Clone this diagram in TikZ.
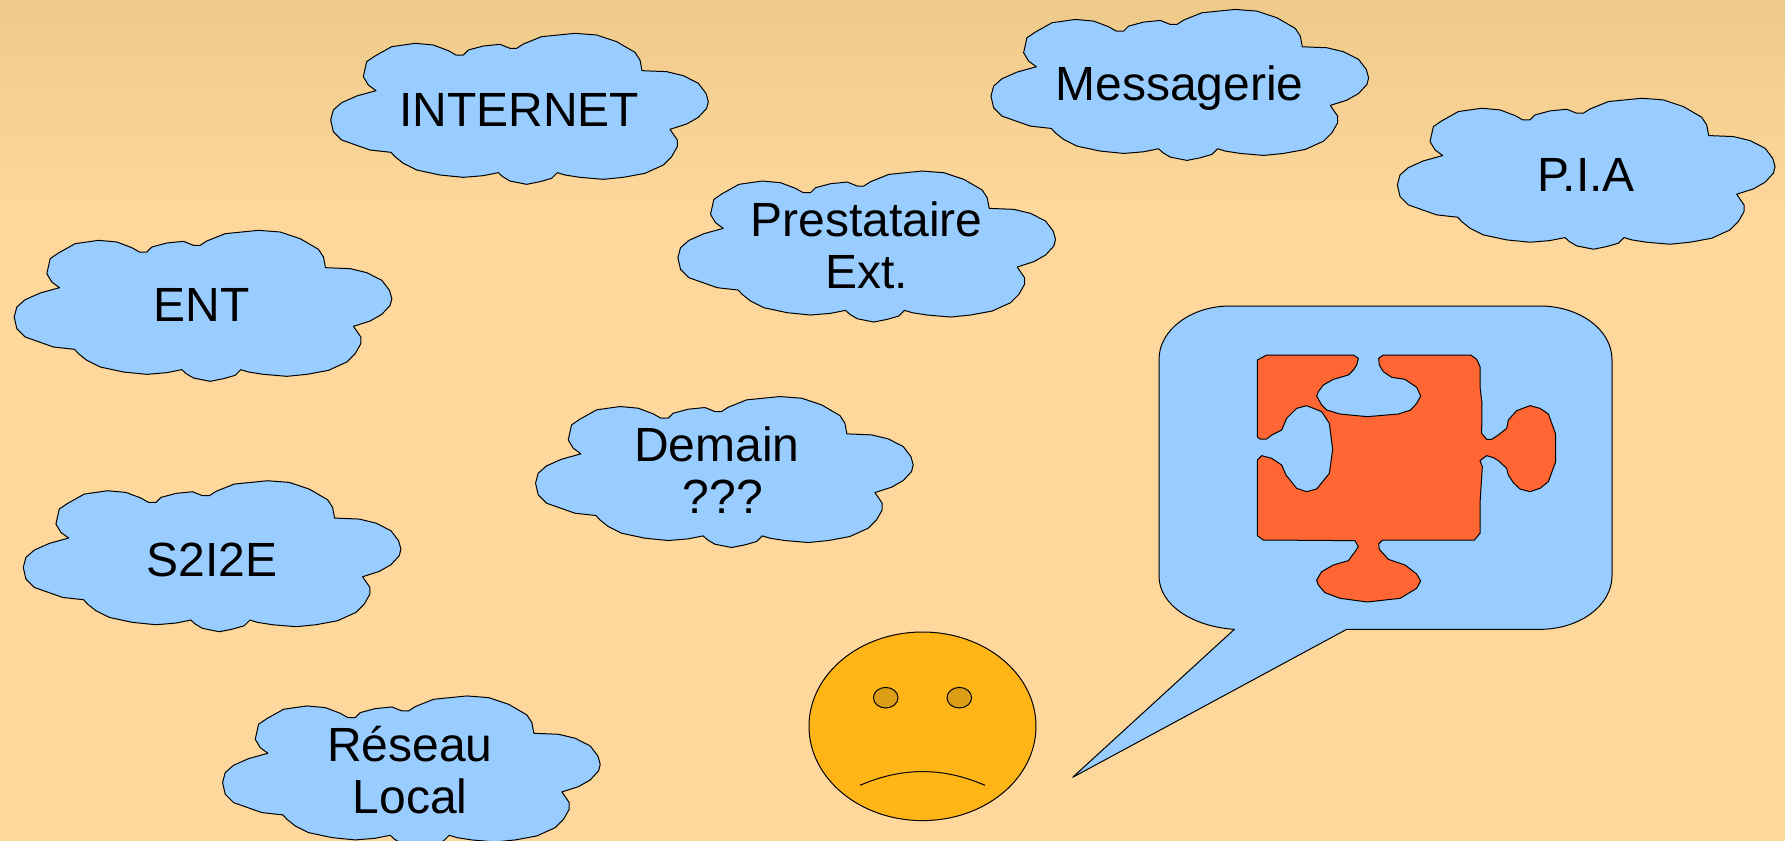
\documentclass[tikz,border=0pt]{standalone}
\usepackage{fontspec}
\setmainfont{Liberation Sans}
\usetikzlibrary{shapes.geometric}
\definecolor{bgtop}{RGB}{238,202,138}
\definecolor{bgmain}{RGB}{253,215,155}
\definecolor{cloudblue}{RGB}{153,204,255}
\definecolor{puzzleorange}{RGB}{255,102,51}
\definecolor{faceyellow}{RGB}{255,181,21}
\definecolor{eyebrown}{RGB}{220,158,20}
\tikzset{
    outline/.style={draw=black, line width=0.5pt, line join=round},
    label/.style={font=\fontsize{24}{26}\selectfont, align=center, inner sep=0},
    oval/.style={ellipse, outline, inner sep=0, outer sep=0},
    cloudpic/.pic={
        \draw[outline, fill=cloudblue] (140,125) -- (165,108) -- (215,80) -- (285,70) -- (340,75) -- (385,92) -- (408,105) -- (430,105) -- (445,90) -- (490,78) -- (540,73) -- (570,85) -- (590,85) -- (610,72) -- (665,50) -- (765,40) -- (830,45) -- (890,65) -- (945,97) -- (960,120) -- (966,152) -- (1040,155) -- (1090,167) -- (1135,190) -- (1158,220) -- (1165,245) -- (1160,265) -- (1135,292) -- (1100,312) -- (1050,328) -- (1072,360) -- (1072,380) -- (1055,410) -- (1030,435) -- (975,460) -- (910,472) -- (850,478) -- (780,472) -- (735,465) -- (712,458) -- (695,475) -- (660,485) -- (620,493) -- (570,483) -- (548,470) -- (535,458) -- (490,467) -- (430,472) -- (360,465) -- (290,450) -- (250,430) -- (225,410) -- (213,397) -- (150,390) -- (65,360) -- (40,335) -- (32,300) -- (40,270) -- (65,248) -- (110,228) -- (168,212) -- (145,195) -- (130,170) -- cycle;
    }
}
\begin{document}
\begin{tikzpicture}[x=0.5pt, y=-0.5pt]
    \clip (0,0) rectangle (1785,841);
    \fill[bgmain] (0,0) rectangle (1785,841);
    \shade[top color=bgtop, bottom color=bgmain] (0,0) rectangle (1785,210);

    \pic[scale=1/3] at (320,20) {cloudpic};
    \pic[scale=1/3] at (980.3,-3.9) {cloudpic};
    \pic[scale=1/3] at (1386.7,84.9) {cloudpic};
    \pic[scale=1/3] at (667.2,157.7) {cloudpic};
    \pic[scale=1/3] at (3.5,217) {cloudpic};
    \pic[scale=1/3] at (524.9,383.2) {cloudpic};
    \pic[scale=1/3] at (12.6,467.4) {cloudpic};
    \pic[scale=1/3] at (211.9,682.6) {cloudpic};

    \node[label] (internet) at (519,110) {INTERNET};
    \node[label] (messagerie) at (1179.6,88) {Messagerie};
    \node[label] (pia) at (1586,175) {P.I.A};
    \node[label] (prestataire) at (866.5,245.5) {Prestataire\\Ext.};
    \node[label] (ent) at (201.7,305) {ENT};
    \node[label] (demain) at (717,470) {Demain\\\hspace*{6pt}???};
    \node[label] (s2i2e) at (211.9,560) {S2I2E};
    \node[label] (reseau) at (410,770.5) {Réseau\\Local};

    \begin{scope}[shift={(1140,290)}, scale=1/3]
        \draw[outline, fill=cloudblue] (57,208) .. controls (57,120) and (153,48) .. (270,48) -- (1200,48) .. controls (1319,48) and (1416,120) .. (1416,208) -- (1416,858) .. controls (1416,946) and (1319,1018) .. (1200,1018) -- (620,1018) -- (-202,1462) -- (283,1018) .. controls (160,1010) and (57,946) .. (57,858) -- cycle;
        \draw[outline, fill=puzzleorange] (352,210) -- (380,195) -- (640,195) -- (655,205) -- (650,225) -- (640,240) -- (625,255) -- (580,268) -- (550,285) -- (535,305) -- (530,318) -- (545,345) -- (560,360) -- (600,372) -- (682,380) -- (775,372) -- (812,360) -- (830,340) -- (842,318) -- (830,292) -- (795,268) -- (755,262) -- (730,245) -- (718,225) -- (716,205) -- (730,195) -- (992,195) -- (1010,208) -- (1020,230) -- (1020,290) -- (1026,340) -- (1025,430) -- (1040,448) -- (1055,448) -- (1075,435) -- (1100,415) -- (1105,390) -- (1130,362) -- (1170,347) -- (1200,355) -- (1225,372) -- (1247,432) -- (1247,515) -- (1225,575) -- (1200,595) -- (1170,605) -- (1140,597) -- (1120,578) -- (1105,555) -- (1100,535) -- (1075,512) -- (1060,503) -- (1040,497) -- (1020,512) -- (1027,530) -- (1020,640) -- (1020,730) -- (1003,750) -- (728,750) -- (716,762) -- (718,778) -- (745,808) -- (795,825) -- (830,852) -- (842,873) -- (830,895) -- (780,925) -- (682,936) -- (600,925) -- (555,908) -- (535,885) -- (530,870) -- (545,845) -- (580,825) -- (625,812) -- (645,785) -- (655,770) -- (645,752) -- (370,750) -- (352,737) -- (352,510) -- (365,497) -- (395,505) -- (425,525) -- (438,555) -- (470,595) -- (500,605) -- (530,597) -- (568,550) -- (578,478) -- (568,400) -- (545,365) -- (500,347) -- (470,355) -- (440,385) -- (425,420) -- (395,435) -- (380,447) -- (360,447) -- (352,440) -- cycle;
    \end{scope}

    \node[oval, fill=faceyellow, minimum width=113.5pt, minimum height=94.3pt] (face) at (922.5,726.3) {};
    \node[oval, fill=eyebrown, minimum width=12.3pt, minimum height=10.3pt] (eyeL) at (885.7,697.7) {};
    \node[oval, fill=eyebrown, minimum width=12.3pt, minimum height=10.3pt] (eyeR) at (959.3,697.7) {};
    \coordinate (mouthL) at (860,785.3);
    \coordinate (mouthR) at (985,785.3);
    \draw[outline] (mouthL) .. controls (902,767) and (943,767) .. (mouthR);
\end{tikzpicture}
\end{document}
